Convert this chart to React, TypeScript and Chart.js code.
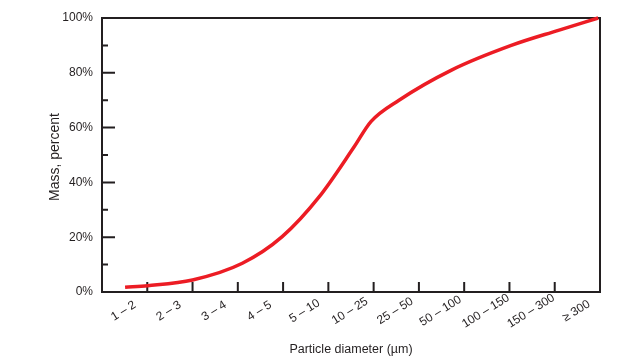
import React, { useEffect, useRef } from "react";
import { Chart, registerables } from "chart.js";

Chart.register(...registerables);

const categories = ["1 – 2", "2 – 3", "3 – 4", "4 – 5", "5 – 10", "10 – 25", "25 – 50", "50 – 100", "100 – 150", "150 – 300", "≥ 300"];
const curvePosition = [0.51, 1.01, 2.0, 3.1, 3.98, 4.8, 5.57, 5.94, 6.56, 7.72, 9.04, 10.08, 10.96];
const massPercent = [1.7, 2.3, 4.4, 10.5, 20.2, 34.8, 53.0, 62.2, 70.0, 81.0, 90.0, 95.5, 100];
const yTicks = [0, 20, 40, 60, 80, 100];
const yMinorTicks = [10, 30, 50, 70, 90];
const xTitle = "Particle diameter (µm)";
const yTitle = "Mass, percent";

const FONT = '"Liberation Sans", Arial, sans-serif';
const AXIS = "#231f20";
const TEXT = "#231f20";

const framePlugin = {
  id: "frame",
  beforeDatasetsDraw(chart: any) {
    const { ctx, chartArea } = chart;
    const xs = chart.scales.x;
    const ys = chart.scales.y;
    const { left, right, top, bottom } = chartArea;
    ctx.save();
    ctx.strokeStyle = AXIS;
    ctx.lineWidth = 2;
    ctx.strokeRect(left, top, right - left, bottom - top);
    ctx.beginPath();
    yTicks.forEach((v) => {
      const y = ys.getPixelForValue(v);
      ctx.moveTo(left, y);
      ctx.lineTo(left + 13, y);
    });
    yMinorTicks.forEach((v) => {
      const y = ys.getPixelForValue(v);
      ctx.moveTo(left, y);
      ctx.lineTo(left + 6, y);
    });
    for (let i = 1; i < categories.length; i++) {
      const x = xs.getPixelForValue(i);
      ctx.moveTo(x, bottom);
      ctx.lineTo(x, bottom - 10);
    }
    ctx.stroke();

    ctx.fillStyle = TEXT;
    ctx.font = `12px ${FONT}`;
    ctx.textAlign = "center";
    ctx.textBaseline = "middle";
    categories.forEach((c, i) => {
      const x = xs.getPixelForValue(i + 0.5);
      ctx.save();
      ctx.translate(x - 1, bottom + 19);
      ctx.rotate((-32 * Math.PI) / 180);
      ctx.fillText(c, 0, 0);
      ctx.restore();
    });
    ctx.font = `12.5px ${FONT}`;
    ctx.fillText(xTitle, (left + right) / 2, 350);
    ctx.font = `14px ${FONT}`;
    ctx.save();
    ctx.translate(55, (top + bottom) / 2 + 2);
    ctx.rotate(-Math.PI / 2);
    ctx.fillText(yTitle, 0, 0);
    ctx.restore();
    ctx.restore();
  },
};

export default function App() {
  const ref = useRef<HTMLCanvasElement>(null);
  useEffect(() => {
    if (!ref.current) return;
    const chart = new Chart(ref.current, {
      type: "line",
      data: {
        datasets: [
          {
            data: curvePosition.map((x, i) => ({ x, y: massPercent[i] })),
            borderColor: "#ec1c24",
            borderWidth: 3.5,
            pointRadius: 0,
            cubicInterpolationMode: "monotone",
            fill: false,
            clip: 6,
          } as any,
        ],
      },
      options: {
        animation: false,
        responsive: false,
        layout: { padding: { top: 18, right: 20, left: 0, bottom: 0 } },
        plugins: { legend: { display: false }, tooltip: { enabled: false } },
        scales: {
          x: {
            type: "linear",
            min: 0,
            max: categories.length,
            ticks: { display: false },
            grid: { display: false, drawTicks: false },
            border: { display: false },
            afterFit: (s: any) => {
              s.height = 68;
            },
          },
          y: {
            min: 0,
            max: 100,
            afterBuildTicks: (s: any) => {
              s.ticks = yTicks.map((v) => ({ value: v }));
            },
            ticks: {
              callback: (v: any) => `${v}%`,
              font: { family: FONT, size: 12 },
              color: TEXT,
              padding: 9,
            },
            grid: { display: false, drawTicks: false },
            border: { display: false },
            afterFit: (s: any) => {
              s.width = 102;
            },
          },
        },
      },
      plugins: [framePlugin],
    });
    return () => chart.destroy();
  }, []);
  return (
    <div style={{ position: "absolute", left: 0, top: 0, width: 620, height: 360 }}>
      <canvas ref={ref} width={620} height={360} />
    </div>
  );
}
